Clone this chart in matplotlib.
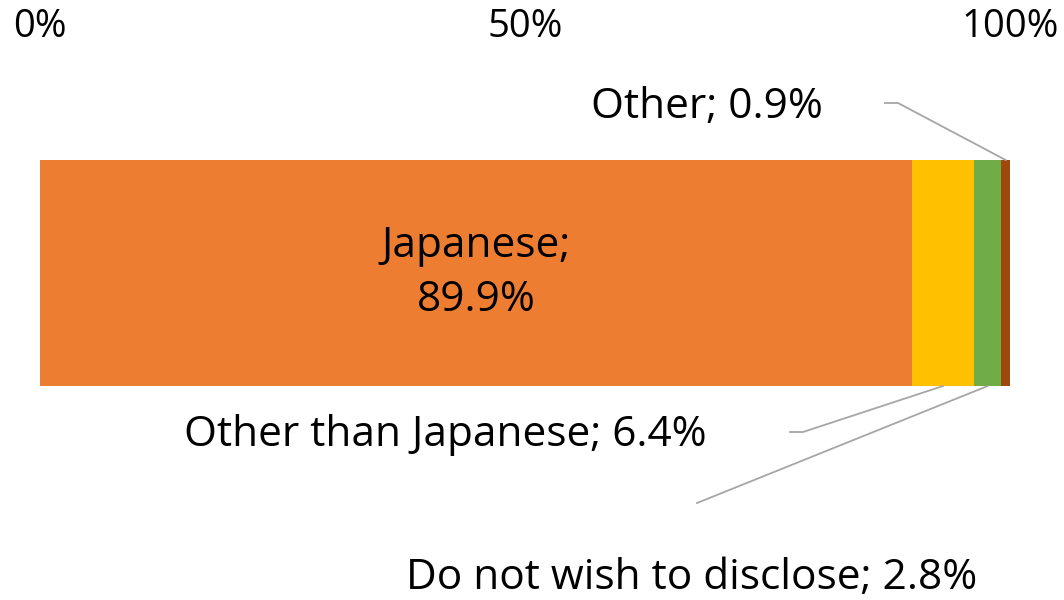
import matplotlib
matplotlib.use("Agg")
import matplotlib.pyplot as plt
import numpy as np

categories = ["Japanese", "Other than Japanese", "Do not wish to disclose", "Other"]
values = [89.9, 6.4, 2.8, 0.9]
colors = ["#ED7D31", "#FFC000", "#70AD47", "#9E480E"]
tick_vals = [0, 50, 100]
tick_labels = ["0%", "50%", "100%"]

plt.rcParams['font.family'] = ['Open Sans', 'DejaVu Sans']
FS = 30.5
TICK_FAMILY = ['Liberation Sans Narrow', 'Open Sans', 'DejaVu Sans']

W, H = 1064, 600
fig = plt.figure(figsize=(W / 100, H / 100), dpi=100)
x0, x1 = 40, 1010
ytop, ybot = 160, 386
ax = fig.add_axes([x0 / W, (H - ybot) / H, (x1 - x0) / W, (ybot - ytop) / H])

lefts = np.concatenate([[0], np.cumsum(values)[:-1]])
for cat, v, l, c in zip(categories, values, lefts, colors):
    ax.barh(0, v, left=l, height=1.0, color=c, edgecolor='none')

ax.set_xlim(0, 100)
ax.set_ylim(-0.5, 0.5)
ax.xaxis.set_ticks_position('top')
ax.set_xticks(tick_vals)
ax.set_xticklabels(tick_labels, fontsize=27.5, family=TICK_FAMILY)
ax.tick_params(axis='x', length=0, pad=82)
ax.set_yticks([])
for s in ax.spines.values():
    s.set_visible(False)

def px2x(px):
    return (px - x0) / (x1 - x0) * 100
def py2y(py):
    return ((ytop + ybot) / 2 - py) / (ybot - ytop)

centers = lefts + np.array(values) / 2
lc = "#A6A6A6"
lw = 1.3

ax.text(centers[0], 0, f"{categories[0]};\n{values[0]}%", ha='center', va='center',
        fontsize=FS, linespacing=1.4, color='black')

ax.text(px2x(707), py2y(435), f"{categories[1]}; {values[1]}%", ha='right', va='center',
        fontsize=FS, color='black', clip_on=False)
ax.plot([px2x(790), px2x(803), centers[1]], [py2y(432), py2y(432), -0.5],
        color=lc, lw=lw, clip_on=False)

ax.text(px2x(977), py2y(578), f"{categories[2]}; {values[2]}%", ha='right', va='center',
        fontsize=FS, color='black', clip_on=False)
ax.plot([px2x(697), centers[2]], [py2y(503), -0.5], color=lc, lw=lw, clip_on=False)

ax.text(px2x(823), py2y(107), f"{categories[3]}; {values[3]}%", ha='right', va='center',
        fontsize=FS, color='black', clip_on=False)
ax.plot([px2x(885), px2x(898), centers[3]], [py2y(103), py2y(103), 0.5],
        color=lc, lw=lw, clip_on=False)

fig.savefig("out.png", dpi=100)
